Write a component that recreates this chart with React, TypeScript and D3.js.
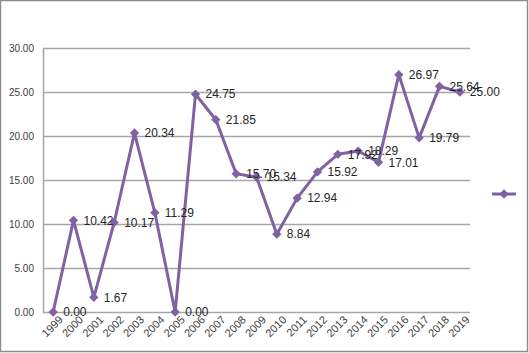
import { useEffect, useRef } from "react";
import * as d3 from "d3";

const YEARS = ["1999","2000","2001","2002","2003","2004","2005","2006","2007","2008","2009","2010","2011","2012","2013","2014","2015","2016","2017","2018","2019"];
const VALUES = [0.00,10.42,1.67,10.17,20.34,11.29,0.00,24.75,21.85,15.70,15.34,8.84,12.94,15.92,17.92,18.29,17.01,26.97,19.79,25.64,25.00];
const Y_TICKS = [0, 5, 10, 15, 20, 25, 30];

const PURPLE = "#7E62A1";
const GRID = "#A6A6A6";
const FONT = "'Liberation Sans', Arial, sans-serif";

export default function App() {
  const ref = useRef<SVGSVGElement>(null);

  useEffect(() => {
    if (!ref.current) return;
    const W = 529, H = 353;
    const ML = 43, MR = 59, MT = 48, MB = 41;
    const iW = W - ML - MR, iH = H - MT - MB;

    const svg = d3.select(ref.current).attr("width", W).attr("height", H);
    svg.selectAll("*").remove();

    // outer frame
    svg.append("rect")
      .attr("x", 0.5).attr("y", 0.5).attr("width", W - 2).attr("height", H - 2)
      .attr("fill", "#fff").attr("stroke", "#8C8C8C").attr("stroke-width", 1.5);

    const g = svg.append("g").attr("transform", `translate(${ML},${MT})`);

    const x = d3.scaleBand().domain(YEARS).range([0, iW]);
    const y = d3.scaleLinear().domain([0, 30]).range([iH, 0]);
    const cx = (d: string) => x(d)! + x.bandwidth() / 2;

    // Grid
    g.append("g")
      .call(d3.axisLeft(y).tickValues(Y_TICKS).tickSize(-iW).tickFormat(() => ""))
      .call(g2 => g2.select(".domain").remove())
      .call(g2 => g2.selectAll("line").attr("stroke", GRID).attr("stroke-width", 1.5));

    // Y axis
    g.append("g")
      .call(d3.axisLeft(y).tickValues(Y_TICKS).tickSize(0).tickPadding(9).tickFormat(v => (+v).toFixed(2)))
      .call(g2 => g2.select(".domain").attr("stroke", GRID).attr("stroke-width", 1.5))
      .call(g2 => g2.selectAll("text").attr("font-size", 10).attr("font-family", FONT).attr("fill", "#404040"));

    // X axis
    g.append("g").attr("transform", `translate(0,${iH})`)
      .call(d3.axisBottom(x).tickSize(0).tickFormat(d => d))
      .call(g2 => g2.select(".domain").remove())
      .call(g2 => g2.selectAll("text")
        .attr("font-size", 11).attr("font-family", FONT).attr("fill", "#404040")
        .attr("text-anchor", "end")
        .attr("transform", "translate(5,3) rotate(-45)")
        .attr("dy", "0.7em").attr("y", 0));

    // Line
    const line = d3.line<number>()
      .x((_, i) => cx(YEARS[i]))
      .y(d => y(d));
    g.append("path").datum(VALUES)
      .attr("d", line)
      .attr("fill", "none").attr("stroke", PURPLE).attr("stroke-width", 3)
      .attr("stroke-linejoin", "round");

    // Markers
    const diamond = d3.symbol().type(d3.symbolDiamond2).size(55);
    g.selectAll("path.mk").data(VALUES).enter().append("path")
      .attr("class", "mk")
      .attr("d", diamond)
      .attr("transform", (d, i) => `translate(${cx(YEARS[i])},${y(d)})`)
      .attr("fill", PURPLE);

    // Value labels
    g.selectAll("text.val").data(VALUES).enter().append("text")
      .attr("class", "val")
      .attr("x", (_, i) => cx(YEARS[i]) + 10)
      .attr("y", d => y(d))
      .attr("dy", "0.35em")
      .attr("font-size", 12).attr("font-family", FONT).attr("fill", "#262626")
      .text(d => d.toFixed(2));

    // Legend (no text)
    const lg = svg.append("g").attr("transform", "translate(492,194)");
    lg.append("line").attr("x1", 0).attr("x2", 24).attr("stroke", PURPLE).attr("stroke-width", 3);
    lg.append("path").attr("d", diamond).attr("transform", "translate(12,0)").attr("fill", PURPLE);
  }, []);

  return (
    <svg ref={ref} style={{ position: "fixed", left: 0, top: 0, display: "block" }} />
  );
}
